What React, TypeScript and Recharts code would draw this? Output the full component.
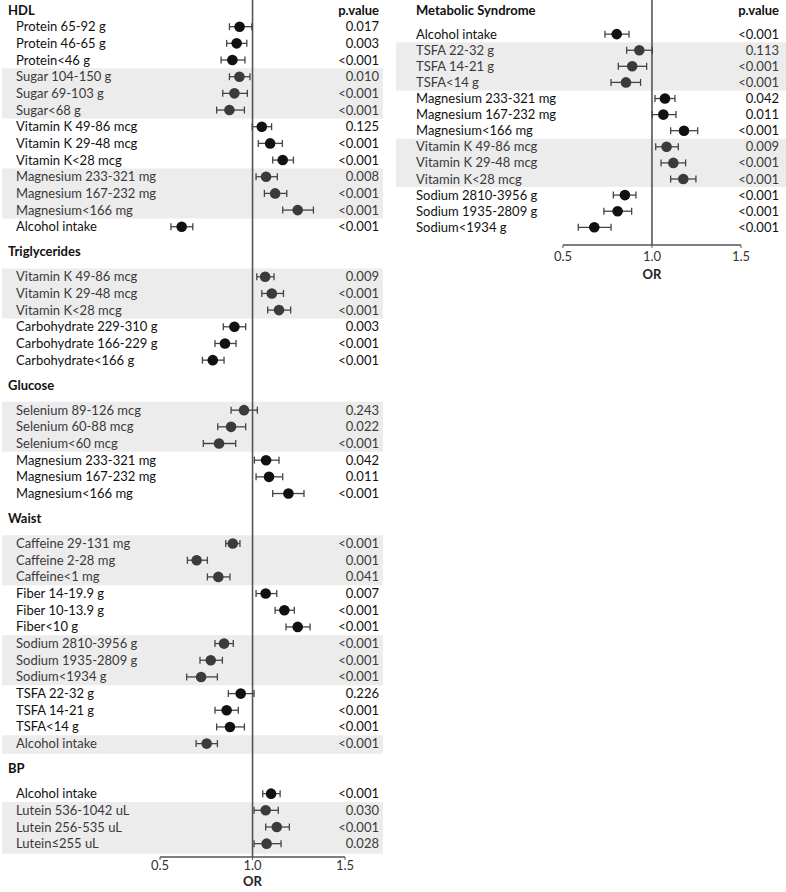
import React from "react";
import { ScatterChart, Scatter, XAxis, YAxis, ErrorBar, ReferenceLine, ReferenceArea } from "recharts";

// ---- data (OR, 95% CI, p) ----
const hdlItems = ["Protein 65-92 g", "Protein 46-65 g", "Protein<46 g", "Sugar 104-150 g", "Sugar 69-103 g", "Sugar<68 g", "Vitamin K 49-86 mcg", "Vitamin K 29-48 mcg", "Vitamin K<28 mcg", "Magnesium 233-321 mg", "Magnesium 167-232 mg", "Magnesium<166 mg", "Alcohol intake"];
const hdlOR = [0.93, 0.914, 0.891, 0.929, 0.902, 0.875, 1.05, 1.095, 1.163, 1.073, 1.122, 1.244, 0.617];
const hdlLow = [0.875, 0.86, 0.83, 0.875, 0.839, 0.806, 0.998, 1.031, 1.109, 1.019, 1.064, 1.163, 0.559];
const hdlHigh = [0.996, 0.969, 0.959, 0.986, 0.972, 0.956, 1.103, 1.161, 1.221, 1.134, 1.185, 1.329, 0.677];
const hdlP = ["0.017", "0.003", "<0.001", "0.010", "<0.001", "<0.001", "0.125", "<0.001", "<0.001", "0.008", "<0.001", "<0.001", "<0.001"];
const hdlShaded = ["Sugar", "Magnesium"];

const trigItems = ["Vitamin K 49-86 mcg", "Vitamin K 29-48 mcg", "Vitamin K<28 mcg", "Carbohydrate 229-310 g", "Carbohydrate 166-229 g", "Carbohydrate<166 g"];
const trigOR = [1.068, 1.104, 1.143, 0.902, 0.851, 0.785];
const trigLow = [1.023, 1.05, 1.082, 0.842, 0.797, 0.729];
const trigHigh = [1.116, 1.167, 1.206, 0.963, 0.911, 0.846];
const trigP = ["0.009", "<0.001", "<0.001", "0.003", "<0.001", "<0.001"];
const trigShaded = ["Vitamin"];

const glucoseItems = ["Selenium 89-126 mcg", "Selenium 60-88 mcg", "Selenium<60 mcg", "Magnesium 233-321 mg", "Magnesium 167-232 mg", "Magnesium<166 mg"];
const glucoseOR = [0.954, 0.884, 0.819, 1.073, 1.089, 1.194];
const glucoseLow = [0.884, 0.812, 0.734, 1.01, 1.019, 1.109];
const glucoseHigh = [1.026, 0.963, 0.909, 1.143, 1.163, 1.278];
const glucoseP = ["0.243", "0.022", "<0.001", "0.042", "0.011", "<0.001"];
const glucoseShaded = ["Selenium"];

const waistItems = ["Caffeine 29-131  mg", "Caffeine 2-28  mg", "Caffeine<1  mg", "Fiber  14-19.9 g", "Fiber  10-13.9 g", "Fiber<10 g", "Sodium 2810-3956 g", "Sodium 1935-2809 g", "Sodium<1934 g", "TSFA 22-32 g", "TSFA 14-21 g", "TSFA<14 g", "Alcohol intake"];
const waistOR = [0.893, 0.698, 0.815, 1.071, 1.172, 1.244, 0.846, 0.774, 0.722, 0.936, 0.86, 0.878, 0.752];
const waistLow = [0.855, 0.648, 0.756, 1.019, 1.122, 1.181, 0.797, 0.716, 0.644, 0.869, 0.797, 0.806, 0.695];
const waistHigh = [0.932, 0.756, 0.878, 1.131, 1.226, 1.311, 0.896, 0.837, 0.81, 1.008, 0.923, 0.956, 0.81];
const waistP = ["<0.001", "0.001", "0.041", "0.007", "<0.001", "<0.001", "<0.001", "<0.001", "<0.001", "0.226", "<0.001", "<0.001", "<0.001"];
const waistShaded = ["Caffeine", "Sodium", "Alcohol"];

const bpItems = ["Alcohol intake", "Lutein 536-1042 uL", "Lutein 256-535 uL", "Lutein≤255 uL"];
const bpOR = [1.1, 1.071, 1.131, 1.076];
const bpLow = [1.055, 1.008, 1.071, 1.008];
const bpHigh = [1.149, 1.139, 1.199, 1.154];
const bpP = ["<0.001", "0.030", "<0.001", "0.028"];
const bpShaded = ["Lutein"];

const metsItems = ["Alcohol intake", "TSFA 22-32 g", "TSFA 14-21 g", "TSFA<14 g", "Magnesium 233-321 mg", "Magnesium 167-232 mg", "Magnesium<166 mg", "Vitamin K 49-86 mcg", "Vitamin K 29-48 mcg", "Vitamin K<28 mcg", "Sodium 2810-3956 g", "Sodium 1935-2809 g", "Sodium<1934 g"];
const metsOR = [0.802, 0.929, 0.889, 0.854, 1.073, 1.064, 1.18, 1.082, 1.12, 1.176, 0.848, 0.807, 0.676];
const metsLow = [0.736, 0.858, 0.811, 0.77, 1.017, 1.002, 1.105, 1.021, 1.051, 1.105, 0.783, 0.73, 0.586];
const metsHigh = [0.871, 1.002, 0.97, 0.936, 1.129, 1.135, 1.257, 1.148, 1.189, 1.247, 0.91, 0.886, 0.77];
const metsP = ["<0.001", "0.113", "<0.001", "<0.001", "0.042", "0.011", "<0.001", "0.009", "<0.001", "<0.001", "<0.001", "<0.001", "<0.001"];
const metsShaded = ["TSFA", "Vitamin"];

const orTicks = [0.5, 1, 1.5];

const FONT = "Lato, 'Open Sans', sans-serif";
const FS = 13;

type Group = { title: string; items: string[]; or: number[]; lo: number[]; hi: number[]; p: string[]; shaded: string[] };

const leftGroups: Group[] = [
  { title: "HDL", items: hdlItems, or: hdlOR, lo: hdlLow, hi: hdlHigh, p: hdlP, shaded: hdlShaded },
  { title: "Triglycerides", items: trigItems, or: trigOR, lo: trigLow, hi: trigHigh, p: trigP, shaded: trigShaded },
  { title: "Glucose", items: glucoseItems, or: glucoseOR, lo: glucoseLow, hi: glucoseHigh, p: glucoseP, shaded: glucoseShaded },
  { title: "Waist", items: waistItems, or: waistOR, lo: waistLow, hi: waistHigh, p: waistP, shaded: waistShaded },
  { title: "BP", items: bpItems, or: bpOR, lo: bpLow, hi: bpHigh, p: bpP, shaded: bpShaded },
];
const rightGroups: Group[] = [
  { title: "Metabolic Syndrome", items: metsItems, or: metsOR, lo: metsLow, hi: metsHigh, p: metsP, shaded: metsShaded },
];

type TickInfo = { text: string; right: string; header: boolean; shaded: boolean };

// lay the rows out one per step, headers get an extra half step around them
function layout(groups: Group[], firstGap: number) {
  const rows: any[] = [];
  const ticks = new Map<number, TickInfo>();
  const bands: [number, number][] = [];
  let pos = 0;
  groups.forEach((g, gi) => {
    const header = gi === 0 ? 0 : pos + 1.5;
    ticks.set(header, { text: g.title, right: gi === 0 ? "p.value" : "", header: true, shaded: false });
    let y = header + (gi === 0 ? firstGap : 1.5);
    let bandStart: number | null = null;
    g.items.forEach((label, i) => {
      const nutrient = label.split(/[\s<≤]/)[0];
      const shaded = g.shaded.includes(nutrient);
      if (shaded && bandStart === null) bandStart = y;
      if (!shaded && bandStart !== null) {
        bands.push([bandStart - 0.5, y - 0.5]);
        bandStart = null;
      }
      rows.push({ x: g.or[i], y, err: [g.or[i] - g.lo[i], g.hi[i] - g.or[i]], shaded });
      ticks.set(y, { text: label, right: g.p[i], header: false, shaded });
      pos = y;
      y += 1;
    });
    if (bandStart !== null) bands.push([bandStart - 0.5, pos + 0.6]);
  });
  return { rows, ticks, bands };
}

const Dot = (props: any) => {
  const { cx, cy, payload } = props;
  if (cx == null || cy == null) return null;
  return <circle cx={cx} cy={cy} r={5.3} fill={payload.shaded ? "#3b3b3b" : "#111"} />;
};

type PanelProps = {
  groups: Group[];
  firstGap: number;
  width: number;
  height: number;
  margin: { top: number; right: number; left: number; bottom: number };
  xDomain: [number, number];
  yDomain: [number, number];
  labelX: number;
  headerX: number;
  pX: number;
  orOffset: number;
  tickGap: number;
};

function Panel({ groups, firstGap, width, height, margin, xDomain, yDomain, labelX, headerX, pX, orOffset, tickGap }: PanelProps) {
  const { rows, ticks, bands } = layout(groups, firstGap);
  const tickValues = Array.from(ticks.keys());

  const LeftTick = (props: any) => {
    const info = ticks.get(props.payload.value);
    if (!info) return null;
    return (
      <text
        x={info.header ? headerX : labelX}
        y={props.y}
        dy="0.35em"
        textAnchor="start"
        fontFamily={FONT}
        fontSize={FS}
        fontWeight={info.header ? 700 : 400}
        fill={info.shaded ? "#3a3a3a" : "#111"}
      >
        {info.text}
      </text>
    );
  };

  const RightTick = (props: any) => {
    const info = ticks.get(props.payload.value);
    if (!info || !info.right) return null;
    return (
      <text
        x={pX}
        y={props.y}
        dy="0.35em"
        textAnchor="end"
        fontFamily={FONT}
        fontSize={FS}
        fontWeight={info.header ? 700 : 400}
        fill={info.shaded ? "#3a3a3a" : "#111"}
      >
        {info.right}
      </text>
    );
  };

  return (
    <ScatterChart width={width} height={height} margin={margin}>
      {bands.map(([a, b], i) => (
        <ReferenceArea key={i} yAxisId="l" y1={a} y2={b} fill="#ececec" fillOpacity={1} stroke="none" />
      ))}
      <XAxis
        type="number"
        dataKey="x"
        domain={xDomain}
        allowDataOverflow
        ticks={orTicks}
        tickFormatter={(v: number) => v.toFixed(1)}
        axisLine={false}
        tickSize={3}
        tickMargin={tickGap}
        tickLine={{ stroke: "#555" }}
        height={35}
        tick={{ fill: "#333", fontSize: FS, fontFamily: FONT }}
      />
      <YAxis
        yAxisId="l"
        type="number"
        dataKey="y"
        domain={yDomain}
        reversed
        allowDataOverflow
        ticks={tickValues}
        interval={0}
        width={1}
        axisLine={false}
        tickLine={false}
        tick={<LeftTick />}
      />
      <YAxis
        yAxisId="r"
        orientation="right"
        type="number"
        domain={yDomain}
        reversed
        allowDataOverflow
        ticks={tickValues}
        interval={0}
        width={1}
        axisLine={false}
        tickLine={false}
        tick={<RightTick />}
      />
      <ReferenceLine
        yAxisId="l"
        segment={[{ x: orTicks[0], y: yDomain[1] }, { x: orTicks[2], y: yDomain[1] }]}
        stroke="#555"
        strokeWidth={1.5}
      />
      <ReferenceLine
        yAxisId="l"
        x={1}
        stroke="#555"
        strokeWidth={1.6}
        label={{ value: "OR", position: "bottom", offset: orOffset, fill: "#222", fontSize: FS, fontWeight: 700, fontFamily: FONT }}
      />
      <Scatter yAxisId="l" data={rows} shape={<Dot />} isAnimationActive={false}>
        <ErrorBar dataKey="err" direction="x" width={3.5} stroke="#444" strokeWidth={1.3} />
      </Scatter>
    </ScatterChart>
  );
}

export default function App() {
  return (
    <div style={{ position: "relative", width: 786, height: 892, background: "#fff" }}>
      <style>{"body{margin:0}"}</style>
      <div style={{ position: "absolute", left: 0, top: 0 }}>
        <Panel
          groups={leftGroups}
          firstGap={1}
          width={400}
          height={892}
          margin={{ top: 0, right: 16, left: 1, bottom: 0 }}
          xDomain={[-0.354, 1.705]}
          yDomain={[-0.6, 50.8]}
          labelX={16}
          headerX={8}
          pX={379}
          orOffset={20}
          tickGap={1}
        />
      </div>
      <div style={{ position: "absolute", left: 390, top: 0 }}>
        <Panel
          groups={rightGroups}
          firstGap={1.5}
          width={396}
          height={295}
          margin={{ top: 0, right: -1, left: 5, bottom: 15 }}
          xDomain={[-0.438, 1.753]}
          yDomain={[-0.62, 14.6]}
          labelX={26}
          headerX={26}
          pX={389}
          orOffset={25}
          tickGap={4}
        />
      </div>
    </div>
  );
}
